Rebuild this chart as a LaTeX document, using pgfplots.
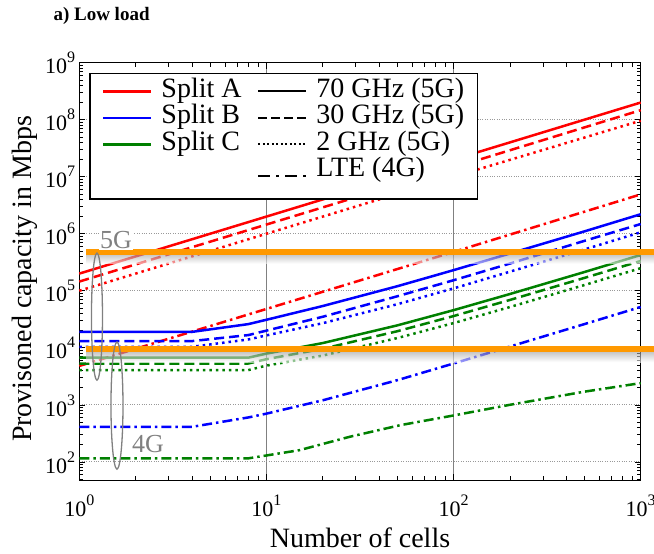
\documentclass[border=0pt]{standalone}
\usepackage{fontspec}
\setmainfont{Liberation Serif}
\usepackage{pgfplots}
\pgfplotsset{compat=1.18}

\definecolor{cA}{RGB}{255,0,0}
\definecolor{cB}{RGB}{0,0,255}
\definecolor{cC}{RGB}{0,128,0}
\definecolor{band}{RGB}{255,153,0}

% tick label 10^k, exponent set high like the original
\newcommand{\tl}[1]{10\smash{\raisebox{11pt}{\fontsize{16}{16}\selectfont #1}}}

\tikzset{
  lw/.style={line width=2.5pt},
  s70/.style={solid},
  s30/.style={dash pattern=on 10pt off 5pt},
  s2/.style={dash pattern=on 2.5pt off 4pt},
  slte/.style={dash pattern=on 10pt off 4pt on 2.5pt off 4pt},
}

\begin{document}
\begin{tikzpicture}
\path[use as bounding box] (-79.3pt,-74pt) rectangle (574.7pt,480pt);
\node[anchor=base west, font=\bfseries\fontsize{19}{19}\selectfont] at (-29.3pt,459.3pt) {a) Low load};
\begin{axis}[
  at={(0pt,0pt)}, anchor=south west,
  scale only axis, width=561.4pt, height=417.3pt,
  xmode=log, ymode=log,
  xmin=1, xmax=1000, ymin=48, ymax=1e9,
  xtick={1,10,100,1000},
  xticklabels={\tl{0},\tl{1},\tl{2},\tl{3}},
  ytick={1e2,1e3,1e4,1e5,1e6,1e7,1e8,1e9},
  yticklabels={\tl{2},\tl{3},\tl{4},\tl{5},\tl{6},\tl{7},\tl{8},\tl{9}},
  minor xtick={2,3,4,5,6,7,8,9,20,30,40,50,60,70,80,90,200,300,400,500,600,700,800,900},
  minor ytick={50,60,70,80,90,200,300,400,500,600,700,800,900,
    2000,3000,4000,5000,6000,7000,8000,9000,
    20000,30000,40000,50000,60000,70000,80000,90000,
    2e5,3e5,4e5,5e5,6e5,7e5,8e5,9e5,2e6,3e6,4e6,5e6,6e6,7e6,8e6,9e6,
    2e7,3e7,4e7,5e7,6e7,7e7,8e7,9e7,2e8,3e8,4e8,5e8,6e8,7e8,8e8,9e8},
  tick align=inside,
  major tick length=6pt, minor tick length=4pt,
  tick style={black, line width=0.6pt},
  xmajorgrids, ymajorgrids,
  major x grid style={gray, line width=0.7pt},
  major y grid style={gray!80, dotted, line width=0.7pt},
  axis line style={black, line width=0.8pt},
  ticklabel style={font=\fontsize{22}{22}\selectfont, inner sep=0pt},
  xticklabel style={yshift=-22pt},
  yticklabel style={xshift=-4pt, yshift=-4pt},
  xlabel={Number of cells},
  ylabel={Provisoned capacity in Mbps},
  label style={font=\fontsize{28}{28}\selectfont},
  xlabel style={at={(axis description cs:0.5,0)}, anchor=base, yshift=-68pt},
  ylabel style={at={(axis description cs:-0.0843,0.4817)}, anchor=base},
  clip=false,
  legend columns=2,
  legend cell align=left,
  legend image code/.code={\draw[#1] (0pt,0pt) -- (48pt,0pt);},
  legend style={at={(axis description cs:0.0178,0.976)}, anchor=north west,
    draw=black, line width=1.3pt, fill=white,
    font=\fontsize{28}{28}\selectfont,
    inner xsep=12pt, inner ysep=5pt, row sep=0.5pt,
    /tikz/every odd column/.append style={column sep=8pt},
    nodes={inner sep=1pt, text height=18pt, text depth=6pt}},
]
% legend entries
\addlegendimage{cA, solid, line width=2.5pt}\addlegendentry{\makebox[95pt][l]{Split A}}
\addlegendimage{black, s70, line width=2pt}\addlegendentry{\makebox[133pt][l]{70 GHz (5G)}}
\addlegendimage{cB, solid, line width=2.5pt}\addlegendentry{\makebox[95pt][l]{Split B}}
\addlegendimage{black, dash pattern=on 9pt off 4pt, line width=2pt}\addlegendentry{30 GHz (5G)}
\addlegendimage{cC, solid, line width=2.5pt}\addlegendentry{\makebox[95pt][l]{Split C}}
\addlegendimage{black, dash pattern=on 2pt off 2.5pt, line width=2pt}\addlegendentry{2 GHz (5G)}
\addlegendimage{empty legend}\addlegendentry{}
\addlegendimage{black, dash pattern=on 12pt off 6pt on 3pt off 6pt, line width=2pt}\addlegendentry[text depth=16pt]{LTE (4G)}

% Split A
\addplot[cA, lw, s70, forget plot] coordinates {(1,2e5) (10,2e6) (100,2e7) (1000,2e8)};
\addplot[cA, lw, s30, forget plot] coordinates {(1,1.45e5) (10,1.45e6) (100,1.45e7) (1000,1.47e8)};
\addplot[cA, lw, s2, forget plot] coordinates {(1,1e5) (10,1e6) (100,1e7) (1000,9.6e7)};
\addplot[cA, lw, slte, forget plot] coordinates {(1,4.8e3) (10,4.8e4) (100,4.8e5) (1000,4.9e6)};
% Split B
\addplot[cB, lw, s70, forget plot] coordinates {(1,1.9e4) (4,1.9e4) (8,2.6e4) (10,3.1e4) (20,5.4e4) (50,1.2e5) (100,2.3e5) (200,4.5e5) (500,1.1e6) (1000,2.2e6)};
\addplot[cB, lw, s30, forget plot] coordinates {(1,1.31e4) (4,1.31e4) (8,1.67e4) (10,2.0e4) (20,3.5e4) (50,8e4) (100,1.53e5) (200,3e5) (500,7.5e5) (1000,1.48e6)};
\addplot[cB, lw, s2, forget plot] coordinates {(1,1.04e4) (4,1.04e4) (8,1.4e4) (10,1.65e4) (20,2.7e4) (50,5.8e4) (100,1.1e5) (200,2.16e5) (500,5.3e5) (1000,1.06e6)};
\addplot[cB, lw, slte, forget plot] coordinates {(1,411) (4,411) (8,600) (10,700) (20,1200) (50,2700) (100,5300) (200,1.05e4) (500,2.6e4) (1000,5.2e4)};
% Split C
\addplot[cC, lw, s70, forget plot] coordinates {(1,6.7e3) (8,6.7e3) (10,7.9e3) (20,1.21e4) (50,2.47e4) (100,4.57e4) (200,8.77e4) (500,2.13e5) (1000,4.24e5)};
\addplot[cC, lw, s30, forget plot] coordinates {(1,5.3e3) (8,5.3e3) (10,6.3e3) (20,9.6e3) (50,1.95e4) (100,3.6e4) (200,6.9e4) (500,1.68e5) (1000,3.33e5)};
\addplot[cC, lw, s2, forget plot] coordinates {(1,4.06e3) (8,4.06e3) (10,4.87e3) (20,7.3e3) (50,1.48e4) (100,2.71e4) (200,5.18e4) (500,1.26e5) (1000,2.49e5)};
\addplot[cC, lw, slte, forget plot] coordinates {(1,115) (8,115) (15,160) (28,276) (52,440) (100,650) (200,1000) (500,1700) (1000,2400)};

% 5G / 4G thresholds with shadow
\shade[top color=black!35, bottom color=white, opacity=0.6] (axis cs:1.086,4.3e5) rectangle (axis cs:1179,3.0e5);
\shade[top color=black!35, bottom color=white, opacity=0.6] (axis cs:1.086,8.3e3) rectangle (axis cs:1179,5.6e3);
\addplot[band, line width=6pt, forget plot] coordinates {(1.086,4.8e5) (1179,4.8e5)};
\addplot[band, line width=6pt, forget plot] coordinates {(1.086,9.4e3) (1179,9.4e3)};

% annotations
\draw[gray, line width=1.3pt] (axis cs:1.243,3.52e4) ellipse [x radius=5.5pt, y radius=63.5pt];
\draw[gray, line width=1.3pt] (axis cs:1.59,968) ellipse [x radius=6pt, y radius=63.5pt];
\node[gray, fill=white, inner sep=1pt, font=\fontsize{26}{26}\selectfont] at (axis cs:1.571,7.74e5) {5G};
\node[gray, inner sep=1pt, font=\fontsize{26}{26}\selectfont] at (axis cs:2.33,204) {4G};
\end{axis}
\end{tikzpicture}
\end{document}
